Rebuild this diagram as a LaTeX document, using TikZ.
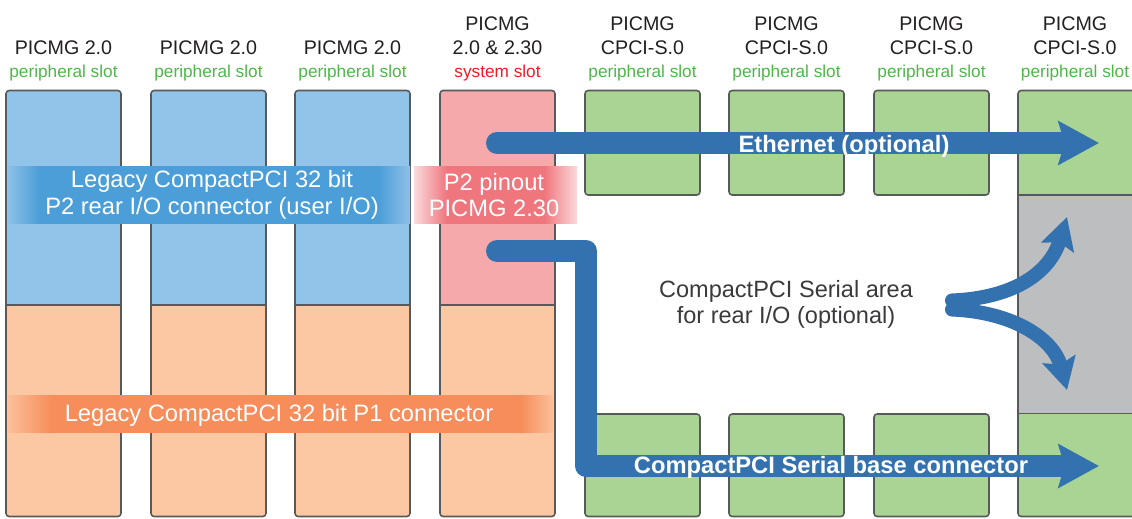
\documentclass[tikz,border=0pt]{standalone}
\usepackage{fontspec}
\setmainfont{Liberation Sans}
\usetikzlibrary{calc}
\usetikzlibrary{arrows.meta}

\definecolor{slotblue}{HTML}{92C4E9}
\definecolor{slotorange}{HTML}{FCC8A4}
\definecolor{slotpink}{HTML}{F5A9AB}
\definecolor{slotgreen}{HTML}{A9D494}
\definecolor{slotgray}{HTML}{BDBEC0}
\definecolor{slotline}{HTML}{58595B}
\definecolor{arrowblue}{HTML}{3372AF}
\definecolor{textgreen}{HTML}{4DB848}
\definecolor{textred}{HTML}{ED1C24}
\definecolor{textdark}{HTML}{231F20}
\definecolor{areadark}{HTML}{3A3A3C}
\definecolor{bandblue}{HTML}{4B9ED8}
\definecolor{bandbluefade}{HTML}{8CC0E7}
\definecolor{bandpink}{HTML}{F0767E}
\definecolor{bandpinkfade}{HTML}{FADADC}
\definecolor{bandorange}{HTML}{F68D5A}
\definecolor{bandorangefade}{HTML}{FBBF9A}

\pgfdeclarehorizontalshading{blueband}{100bp}{color(0bp)=(bandbluefade); color(25bp)=(bandbluefade); color(29bp)=(bandblue); color(71bp)=(bandblue); color(75bp)=(bandbluefade); color(100bp)=(bandbluefade)}
\pgfdeclarehorizontalshading{pinkband}{100bp}{color(0bp)=(bandpinkfade); color(25bp)=(bandpinkfade); color(35bp)=(bandpink); color(65bp)=(bandpink); color(75bp)=(bandpinkfade); color(100bp)=(bandpinkfade)}
\pgfdeclarehorizontalshading{orangeband}{100bp}{color(0bp)=(bandorangefade); color(25bp)=(bandorangefade); color(29bp)=(bandorange); color(72bp)=(bandorange); color(75bp)=(bandorangefade); color(100bp)=(bandorangefade)}

\begin{document}
\begin{tikzpicture}[x=0.02cm, y=-0.02cm, line join=round,
    slotframe/.style={draw=slotline, line width=0.9pt, rounded corners=1.8pt},
    divider/.style={draw=slotline, line width=0.9pt},
    head/.style={text=textdark, font=\fontsize{11.2}{13}\selectfont, anchor=base},
    kind/.style={font=\fontsize{9.8}{12}\selectfont, anchor=base},
    bandtext/.style={text=white, font=\fontsize{13.5}{15}\selectfont, align=center},
    areatext/.style={text=areadark, font=\fontsize{13.4}{14.6}\selectfont, align=center},
    pipetext/.style={text=white, font=\fontsize{13.5}{15}\selectfont\bfseries, anchor=base},
    pipe/.style={draw=arrowblue, line width=12.5pt, line cap=round,
        -{Stealth[length=23pt, width=24.5pt, inset=3.5pt]}},
    fork/.style={draw=arrowblue, line width=8pt, line cap=round,
        -{Stealth[length=18pt, width=19pt, inset=3pt]}}]
    \clip (0,0) rectangle (1132,518);

    \fill[slotorange, rounded corners=1.8pt] (6,90.5) rectangle (121,516.5);
    \fill[slotblue] (6,305) [rounded corners=1.8pt] -- (6,90.5) -- (121,90.5) [sharp corners] -- (121,305) -- cycle;
    \draw[slotframe] (6,90.5) rectangle (121,516.5);
    \draw[divider] (6,305) -- (121,305);

    \fill[slotorange, rounded corners=1.8pt] (151,90.5) rectangle (266,516.5);
    \fill[slotblue] (151,305) [rounded corners=1.8pt] -- (151,90.5) -- (266,90.5) [sharp corners] -- (266,305) -- cycle;
    \draw[slotframe] (151,90.5) rectangle (266,516.5);
    \draw[divider] (151,305) -- (266,305);

    \fill[slotorange, rounded corners=1.8pt] (295,90.5) rectangle (410,516.5);
    \fill[slotblue] (295,305) [rounded corners=1.8pt] -- (295,90.5) -- (410,90.5) [sharp corners] -- (410,305) -- cycle;
    \draw[slotframe] (295,90.5) rectangle (410,516.5);
    \draw[divider] (295,305) -- (410,305);

    \fill[slotorange, rounded corners=1.8pt] (440,90.5) rectangle (555,516.5);
    \fill[slotpink] (440,305) [rounded corners=1.8pt] -- (440,90.5) -- (555,90.5) [sharp corners] -- (555,305) -- cycle;
    \draw[slotframe] (440,90.5) rectangle (555,516.5);
    \draw[divider] (440,305) -- (555,305);

    \draw[slotframe, fill=slotgreen] (585,90.5) rectangle (700,195);
    \draw[slotframe, fill=slotgreen] (585,414) rectangle (700,516.5);
    \draw[slotframe, fill=slotgreen] (729,90.5) rectangle (844,195);
    \draw[slotframe, fill=slotgreen] (729,414) rectangle (844,516.5);
    \draw[slotframe, fill=slotgreen] (874,90.5) rectangle (989,195);
    \draw[slotframe, fill=slotgreen] (874,414) rectangle (989,516.5);

    \fill[slotgreen, rounded corners=1.8pt] (1018,90.5) rectangle (1150,516.5);
    \fill[slotgray] (1018,195) rectangle (1150,413.5);
    \draw[slotframe] (1018,90.5) rectangle (1150,516.5);
    \draw[divider] (1018,195) -- (1150,195);
    \draw[divider] (1018,413.5) -- (1150,413.5);

    \node[head] (h1a) at (63.5,54) {PICMG 2.0};
    \node[kind, text=textgreen] (h1b) at (63.5,77) {peripheral slot};
    \node[head] (h2a) at (208.5,54) {PICMG 2.0};
    \node[kind, text=textgreen] (h2b) at (208.5,77) {peripheral slot};
    \node[head] (h3a) at (352.5,54) {PICMG 2.0};
    \node[kind, text=textgreen] (h3b) at (352.5,77) {peripheral slot};
    \node[head] (h4a) at (497.5,30) {PICMG};
    \node[head] (h4b) at (497.5,54) {2.0 \& 2.30};
    \node[kind, text=textred] (h4c) at (497.5,77) {system slot};
    \node[head] (h5a) at (642.5,30) {PICMG};
    \node[head] (h5b) at (642.5,54) {CPCI-S.0};
    \node[kind, text=textgreen] (h5c) at (642.5,77) {peripheral slot};
    \node[head] (h6a) at (786.5,30) {PICMG};
    \node[head] (h6b) at (786.5,54) {CPCI-S.0};
    \node[kind, text=textgreen] (h6c) at (786.5,77) {peripheral slot};
    \node[head] (h7a) at (931.5,30) {PICMG};
    \node[head] (h7b) at (931.5,54) {CPCI-S.0};
    \node[kind, text=textgreen] (h7c) at (931.5,77) {peripheral slot};
    \node[head] (h8a) at (1075,30) {PICMG};
    \node[head] (h8b) at (1075,54) {CPCI-S.0};
    \node[kind, text=textgreen] (h8c) at (1075,77) {peripheral slot};

    \shade[shading=blueband] (8,166) rectangle (410,223);
    \shade[shading=pinkband] (414,166) rectangle (577,223);
    \shade[shading=orangeband] (8,395) rectangle (553,432);
    \node[bandtext] (legacyio) at (212,195) {Legacy CompactPCI 32 bit\\P2 rear I/O connector (user I/O)};
    \node[bandtext] (pinout) at (494,195) {P2 pinout\\PICMG 2.30};
    \node[bandtext, anchor=base] (legacyp1) at (279,421) {Legacy CompactPCI 32 bit P1 connector};

    \coordinate (E0) at (497,143);
    \coordinate (E1) at (1099,143);
    \draw[pipe] (E0) -- (E1);
    \node[pipetext] (eth) at (844,152) {Ethernet (optional)};

    \coordinate (B0) at (497,251);
    \coordinate (B1) at (586,251);
    \coordinate (B2) at (586,466);
    \coordinate (B3) at (1099,466);
    \draw[pipe] (B0) -- (B1) -- (B2) -- (B3);
    \node[pipetext] (base) at (831,473) {CompactPCI Serial base connector};

    \node[areatext] (area) at (786,304.5) {CompactPCI Serial area\\for rear I/O (optional)};
    \coordinate (F0) at (952,300.5);
    \coordinate (F1) at (952,309.5);
    \coordinate (F2) at (1067,217);
    \coordinate (F3) at (1067,390);
    \draw[fork] (F0) .. controls (1015,298) and (1050,272) .. (F2);
    \draw[fork] (F1) .. controls (1015,312) and (1054,340) .. (F3);
\end{tikzpicture}
\end{document}
